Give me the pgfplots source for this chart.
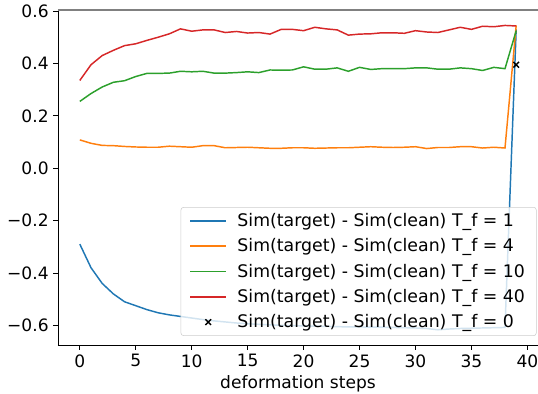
\documentclass[border=0pt]{standalone}
\usepackage{pgfplots}
\pgfplotsset{compat=1.18}
\usepackage{fontspec}
\setmainfont{DejaVu Sans}
\definecolor{tabblue}{HTML}{1F77B4}
\definecolor{taborange}{HTML}{FF7F0E}
\definecolor{tabgreen}{HTML}{2CA02C}
\definecolor{tabred}{HTML}{D62728}
\begin{document}
\begin{tikzpicture}
\begin{axis}[
  scale only axis,
  width=360pt, height=251.25pt,
  xmin=-1.95, xmax=40.95,
  ymin=-0.675, ymax=0.604,
  xtick={0,5,...,40},
  ytick={-0.6,-0.4,-0.2,0,0.2,0.4,0.6},
  yticklabels={−0.6,−0.4,−0.2,0.0,0.2,0.4,0.6},
  /pgf/number format/assume math mode=true,
  axis x line*=bottom, axis y line*=left,
  axis line style={-, black, line width=0.6pt},
  tick align=outside, major tick length=3.5pt,
  tick style={black, line width=0.6pt},
  ticklabel style={font=\fontsize{12.8}{15}\selectfont},
  xlabel={deformation steps},
  label style={font=\fontsize{12.8}{15}\selectfont},
  xlabel style={yshift=1pt},
  legend style={at={(0.997,0.027)}, anchor=south east,
    font=\fontsize{13}{15.5}\selectfont,
    fill=white, fill opacity=0.8, text opacity=1, draw opacity=1,
    draw=black!20, rounded corners=2pt,
    row sep=3.6pt, column sep=6pt, inner xsep=6.5pt, inner ysep=2.5pt},
  legend cell align=left,
  legend image code/.code={\draw[mark repeat=2,mark phase=2,#1] plot coordinates {(0cm,0cm) (0.47cm,0cm) (0.94cm,0cm)};},
  every axis plot/.append style={line width=1.1pt},
]
\addplot[tabblue, mark=none] coordinates {
(0,-0.29)(1,-0.38)(2,-0.44)(3,-0.48)(4,-0.51)(5,-0.525)(6,-0.54)(7,-0.552)(8,-0.56)(9,-0.566)
(10,-0.572)(11,-0.578)(12,-0.583)(13,-0.587)(14,-0.591)(15,-0.594)(16,-0.596)(17,-0.598)(18,-0.600)(19,-0.601)
(20,-0.602)(21,-0.603)(22,-0.604)(23,-0.605)(24,-0.606)(25,-0.606)(26,-0.607)(27,-0.607)(28,-0.608)(29,-0.609)
(30,-0.610)(31,-0.612)(32,-0.617)(33,-0.614)(34,-0.612)(35,-0.611)(36,-0.610)(37,-0.609)(38,-0.608)(39,0.53)};
\addlegendentry{Sim(target) - Sim(clean) T\_f = 1}
\addplot[taborange, mark=none] coordinates {
(0,0.108)(1,0.095)(2,0.087)(3,0.086)(4,0.083)(5,0.081)(6,0.080)(7,0.080)(8,0.084)(9,0.082)
(10,0.080)(11,0.086)(12,0.086)(13,0.078)(14,0.079)(15,0.080)(16,0.078)(17,0.076)(18,0.076)(19,0.078)
(20,0.078)(21,0.076)(22,0.077)(23,0.078)(24,0.078)(25,0.080)(26,0.082)(27,0.080)(28,0.079)(29,0.080)
(30,0.082)(31,0.075)(32,0.079)(33,0.079)(34,0.082)(35,0.082)(36,0.077)(37,0.080)(38,0.077)(39,0.545)};
\addlegendentry{Sim(target) - Sim(clean) T\_f = 4}
\addplot[tabgreen, mark=none] coordinates {
(0,0.255)(1,0.285)(2,0.31)(3,0.328)(4,0.334)(5,0.35)(6,0.362)(7,0.362)(8,0.363)(9,0.37)
(10,0.368)(11,0.37)(12,0.363)(13,0.363)(14,0.365)(15,0.368)(16,0.365)(17,0.375)(18,0.374)(19,0.375)
(20,0.387)(21,0.378)(22,0.378)(23,0.383)(24,0.37)(25,0.385)(26,0.377)(27,0.38)(28,0.38)(29,0.38)
(30,0.383)(31,0.383)(32,0.378)(33,0.378)(34,0.383)(35,0.38)(36,0.373)(37,0.385)(38,0.38)(39,0.525)};
\addlegendentry{Sim(target) - Sim(clean) T\_f = 10}
\addplot[tabred, mark=none] coordinates {
(0,0.335)(1,0.395)(2,0.43)(3,0.45)(4,0.468)(5,0.475)(6,0.488)(7,0.50)(8,0.513)(9,0.532)
(10,0.523)(11,0.528)(12,0.528)(13,0.518)(14,0.522)(15,0.516)(16,0.518)(17,0.512)(18,0.53)(19,0.53)
(20,0.525)(21,0.538)(22,0.532)(23,0.528)(24,0.508)(25,0.512)(26,0.513)(27,0.517)(28,0.517)(29,0.515)
(30,0.525)(31,0.52)(32,0.518)(33,0.528)(34,0.538)(35,0.53)(36,0.542)(37,0.54)(38,0.545)(39,0.543)};
\addlegendentry{Sim(target) - Sim(clean) T\_f = 40}
\addplot[black, only marks, mark=x, mark size=3pt, line width=1.1pt] coordinates {(39,0.395)};
\addlegendentry{Sim(target) - Sim(clean) T\_f = 0}
\draw[gray, line width=0.8pt] (rel axis cs:0,1) -- (rel axis cs:1,1);
\coordinate (ll) at (rel axis cs:0,0);
\coordinate (ur) at (rel axis cs:1,1);
\end{axis}
\pgfresetboundingbox
\path[use as bounding box] ([xshift=-43.5pt,yshift=-36.75pt]ll) rectangle ([yshift=7.5pt]ur);
\end{tikzpicture}
\end{document}
